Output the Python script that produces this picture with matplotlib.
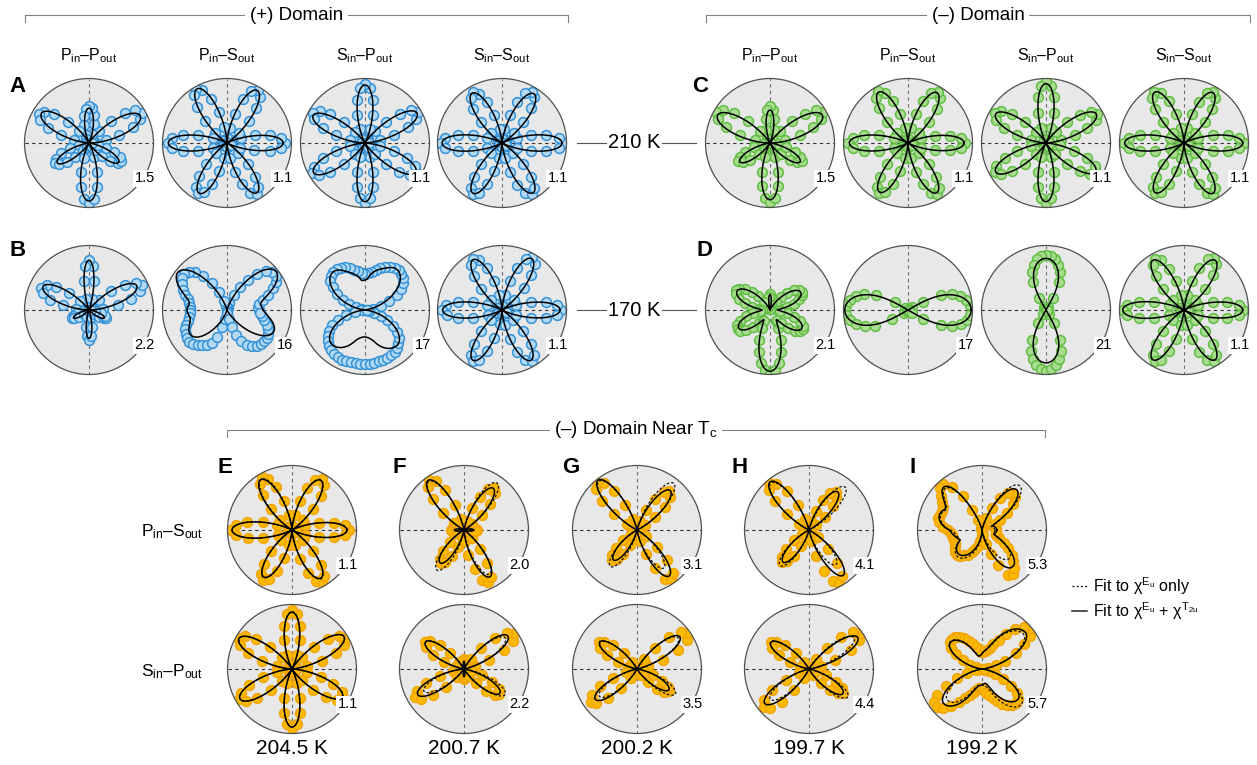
import numpy as np
import matplotlib.pyplot as plt
from matplotlib.lines import Line2D

plt.rcParams['font.family'] = ['Liberation Sans', 'DejaVu Sans']
plt.rcParams['mathtext.fontset'] = 'custom'
plt.rcParams['mathtext.rm'] = 'Liberation Sans'
plt.rcParams['mathtext.it'] = 'Liberation Sans:italic'
plt.rcParams['mathtext.default'] = 'regular'

# polarization angle of each measured point (deg) and dense grid for fits
angles = np.arange(0, 360, 5)
phi = np.linspace(0, 360, 721)

# ---- measured SHG intensity, % of each panel's full scale ----
# (+) domain, 210 K
A_pp = [3, 9, 26, 48, 72, 88, 94, 88, 72, 48, 25, 8,
        2, 5, 15, 30, 44, 54, 57, 53, 43, 29, 14, 5,
        2, 8, 24, 46, 70, 85, 90, 84, 68, 45, 23, 7,
        2, 5, 15, 31, 46, 57, 61, 56, 45, 30, 15, 5,
        2, 7, 24, 47, 70, 87, 93, 87, 70, 46, 23, 7,
        2, 5, 14, 29, 43, 54, 57, 53, 42, 28, 14, 5]
A_ps = [90, 84, 68, 45, 23, 6, 1, 7, 24, 48, 71, 88,
        95, 89, 72, 47, 24, 7, 1, 8, 25, 49, 72, 90,
        97, 90, 72, 48, 24, 7, 1, 6, 23, 46, 69, 86,
        92, 85, 69, 46, 23, 6, 1, 6, 23, 45, 67, 84,
        90, 84, 67, 45, 23, 6, 1, 7, 23, 46, 68, 85,
        92, 84, 68, 45, 23, 6, 1, 6, 22, 44, 67, 84]
A_sp = [1, 7, 24, 47, 71, 88, 95, 88, 71, 47, 24, 7,
        1, 7, 23, 45, 68, 85, 92, 85, 68, 45, 23, 6,
        1, 7, 23, 46, 70, 86, 93, 87, 70, 46, 23, 6,
        1, 6, 23, 47, 70, 87, 94, 87, 70, 46, 23, 7,
        1, 7, 23, 46, 69, 86, 93, 86, 69, 46, 23, 7,
        1, 7, 23, 46, 69, 86, 93, 86, 69, 46, 23, 6]
A_ss = [95, 88, 70, 47, 24, 7, 1, 7, 24, 47, 70, 87,
        92, 85, 68, 45, 22, 6, 1, 6, 22, 45, 68, 84,
        91, 85, 69, 46, 23, 7, 1, 7, 24, 47, 70, 88,
        95, 88, 70, 47, 24, 7, 1, 6, 23, 45, 68, 85,
        91, 85, 68, 45, 23, 6, 1, 7, 23, 46, 69, 86,
        92, 86, 69, 46, 23, 7, 1, 7, 24, 47, 70, 88]

# (+) domain, 170 K
B_pp = [7, 22, 45, 68, 84, 90, 85, 68, 45, 22, 6, 1,
        1, 1, 2, 18, 45, 68, 78, 68, 45, 18, 2, 1,
        1, 1, 6, 20, 41, 62, 76, 82, 76, 62, 41, 20,
        6, 4, 10, 19, 26, 29, 26, 19, 10, 3, 1, 1,
        1, 1, 1, 11, 26, 40, 46, 40, 26, 11, 1, 1,
        1, 1, 1, 3, 10, 19, 26, 29, 26, 19, 10, 3]
B_ps = [50, 48, 50, 58, 68, 79, 87, 92, 91, 85, 73, 57,
        41, 25, 11, 4, 1, 1, 1, 1, 2, 6, 15, 30,
        48, 64, 77, 84, 87, 86, 81, 75, 69, 63, 60, 58,
        57, 58, 60, 63, 67, 71, 74, 76, 76, 74, 71, 67,
        63, 56, 44, 28, 14, 5, 2, 5, 14, 28, 42, 53,
        62, 68, 72, 74, 75, 75, 73, 70, 66, 60, 55, 51]
B_sp = [2, 5, 12, 25, 40, 54, 64, 72, 77, 80, 81, 80,
        77, 73, 69, 64, 60, 57, 56, 58, 61, 65, 69, 73,
        75, 77, 77, 75, 70, 61, 50, 38, 26, 15, 7, 3,
        2, 6, 16, 30, 44, 56, 65, 70, 74, 78, 81, 84,
        85, 85, 84, 83, 83, 84, 84, 84, 83, 82, 82, 82,
        81, 80, 77, 73, 68, 60, 50, 38, 26, 15, 7, 3]
B_ss = [92, 86, 69, 46, 23, 7, 2, 8, 25, 48, 71, 88,
        94, 87, 70, 46, 23, 7, 2, 7, 23, 46, 69, 85,
        91, 85, 68, 45, 23, 6, 1, 7, 24, 47, 70, 87,
        93, 86, 70, 46, 23, 7, 2, 7, 23, 46, 68, 85,
        91, 85, 68, 45, 22, 6, 1, 6, 23, 46, 69, 86,
        92, 86, 69, 46, 23, 7, 2, 7, 23, 46, 69, 86]

# (-) domain, 210 K
C_pp = [2, 7, 24, 48, 71, 88, 95, 88, 71, 48, 24, 7,
        1, 1, 7, 21, 38, 51, 58, 51, 38, 21, 7, 1,
        1, 7, 24, 48, 72, 89, 96, 89, 72, 48, 24, 7,
        2, 2, 11, 25, 41, 52, 57, 52, 41, 25, 11, 2,
        1, 6, 23, 46, 68, 85, 91, 85, 68, 46, 23, 6,
        1, 2, 11, 25, 41, 52, 57, 52, 41, 25, 11, 2]
C_ps = [88, 82, 66, 44, 22, 6, 1, 6, 23, 46, 69, 86,
        92, 86, 69, 46, 23, 6, 1, 7, 23, 47, 70, 86,
        93, 86, 70, 47, 23, 7, 1, 7, 23, 47, 70, 86,
        93, 86, 70, 47, 23, 6, 1, 6, 23, 45, 68, 84,
        90, 84, 68, 45, 23, 6, 1, 6, 23, 46, 68, 85,
        91, 85, 68, 46, 23, 6, 1, 6, 22, 44, 66, 82]
C_sp = [1, 6, 23, 46, 68, 85, 91, 85, 68, 46, 23, 6,
        1, 7, 24, 48, 72, 89, 96, 89, 72, 48, 24, 7,
        1, 6, 23, 46, 69, 86, 92, 86, 69, 46, 23, 6,
        1, 6, 23, 46, 68, 85, 91, 85, 68, 46, 23, 6,
        1, 7, 23, 47, 70, 86, 93, 86, 70, 47, 23, 7,
        1, 6, 22, 45, 68, 84, 90, 84, 68, 45, 22, 6]
C_ss = [93, 86, 70, 47, 23, 7, 1, 6, 23, 46, 68, 85,
        91, 85, 68, 46, 23, 6, 1, 6, 23, 46, 69, 86,
        92, 86, 69, 46, 23, 7, 1, 7, 23, 47, 70, 86,
        93, 86, 70, 47, 23, 6, 1, 6, 23, 45, 68, 84,
        90, 84, 68, 45, 23, 6, 1, 6, 23, 46, 68, 85,
        91, 85, 68, 46, 23, 7, 1, 7, 23, 47, 70, 86]

# (-) domain, 170 K
D_pp = [12, 16, 26, 38, 48, 55, 57, 55, 48, 38, 26, 15,
        6, 1, 1, 2, 10, 20, 25, 20, 10, 2, 1, 1,
        6, 16, 28, 40, 51, 58, 61, 58, 51, 40, 28, 17,
        12, 16, 27, 38, 49, 56, 58, 56, 49, 38, 27, 19,
        20, 31, 49, 67, 83, 93, 97, 93, 83, 67, 49, 31,
        20, 19, 27, 39, 50, 57, 59, 57, 50, 39, 27, 16]
D_ps = [99, 97, 92, 84, 72, 56, 26, 7, 2, 1, 1, 1,
        1, 1, 1, 1, 1, 1, 1, 1, 1, 1, 1, 1,
        1, 1, 1, 1, 2, 6, 24, 55, 72, 84, 92, 96,
        98, 96, 91, 83, 71, 57, 28, 8, 2, 1, 1, 1,
        1, 1, 1, 1, 1, 1, 1, 1, 1, 1, 1, 1,
        1, 1, 1, 1, 2, 7, 27, 56, 73, 85, 93, 97]
D_sp = [1, 1, 1, 1, 1, 1, 1, 1, 1, 1, 2, 6,
        22, 48, 63, 73, 80, 84, 86, 84, 80, 73, 63, 48,
        22, 6, 2, 1, 1, 1, 1, 1, 1, 1, 1, 1,
        1, 1, 1, 1, 1, 1, 1, 1, 1, 1, 2, 7,
        24, 52, 67, 79, 87, 92, 94, 92, 87, 79, 67, 52,
        24, 7, 2, 1, 1, 1, 1, 1, 1, 1, 1, 1]
D_ss = [91, 85, 68, 46, 23, 6, 1, 7, 23, 47, 70, 87,
        93, 87, 70, 47, 23, 7, 1, 6, 23, 46, 68, 85,
        91, 85, 68, 46, 23, 6, 1, 7, 24, 48, 71, 88,
        95, 88, 71, 48, 24, 7, 1, 6, 23, 46, 68, 85,
        91, 85, 68, 46, 23, 6, 1, 6, 23, 46, 69, 86,
        92, 86, 69, 46, 23, 6, 1, 6, 23, 46, 68, 85]

# (-) domain near Tc: Pin-Sout row, then Sin-Pout row
E_ps = [88, 82, 66, 44, 22, 6, 1, 6, 23, 46, 69, 86,
        92, 86, 69, 46, 23, 6, 1, 7, 24, 47, 71, 87,
        94, 87, 71, 47, 24, 7, 1, 7, 24, 47, 71, 87,
        94, 87, 70, 47, 23, 6, 1, 6, 23, 45, 68, 84,
        90, 84, 68, 45, 23, 6, 1, 7, 24, 47, 71, 87,
        96, 87, 70, 47, 23, 6, 1, 6, 22, 44, 66, 82]
F_ps = [20, 18, 13, 7, 2, 1, 2, 15, 36, 57, 74, 80,
        74, 57, 36, 15, 2, 1, 1, 1, 3, 18, 42, 68,
        88, 95, 88, 68, 42, 18, 3, 1, 2, 7, 13, 18,
        20, 18, 13, 7, 2, 1, 2, 12, 28, 45, 58, 63,
        58, 45, 28, 12, 2, 1, 2, 17, 39, 63, 82, 89,
        84, 63, 39, 17, 2, 1, 1, 1, 2, 7, 13, 18]
G_ps = [1, 1, 1, 1, 1, 2, 15, 34, 56, 72, 78, 72,
        56, 34, 15, 2, 1, 1, 1, 1, 1, 3, 18, 43,
        70, 89, 97, 89, 70, 43, 18, 3, 1, 1, 1, 1,
        1, 1, 1, 1, 1, 2, 11, 26, 43, 55, 60, 55,
        43, 26, 11, 2, 1, 1, 1, 1, 3, 17, 40, 65,
        88, 93, 88, 65, 40, 17, 3, 1, 1, 1, 1, 1]
H_ps = [1, 1, 1, 1, 1, 1, 2, 14, 32, 52, 66, 72,
        66, 52, 32, 14, 2, 1, 1, 1, 1, 3, 18, 42,
        69, 88, 96, 88, 69, 42, 18, 3, 1, 1, 1, 1,
        1, 1, 1, 1, 1, 2, 12, 28, 46, 59, 64, 59,
        46, 28, 12, 2, 1, 1, 1, 3, 18, 41, 67, 88,
        94, 88, 67, 41, 18, 3, 1, 1, 1, 1, 1, 1]
I_ps = [22, 22, 21, 20, 20, 22, 32, 47, 62, 72, 75, 70,
        57, 38, 19, 5, 1, 1, 1, 1, 1, 3, 16, 35,
        60, 82, 93, 91, 83, 75, 70, 69, 70, 70, 67, 60,
        52, 49, 48, 47, 46, 47, 49, 52, 54, 54, 52, 48,
        44, 38, 32, 25, 17, 8, 3, 2, 8, 22, 40, 60,
        80, 83, 76, 68, 60, 50, 39, 29, 23, 22, 22, 22]

E_sp = [1, 7, 24, 48, 72, 89, 96, 89, 72, 48, 24, 7,
        1, 6, 23, 46, 68, 85, 91, 85, 68, 46, 23, 6,
        1, 7, 24, 48, 72, 89, 96, 89, 72, 48, 24, 7,
        1, 7, 24, 47, 71, 87, 94, 87, 71, 47, 24, 7,
        1, 6, 23, 46, 69, 86, 92, 86, 69, 46, 23, 6,
        1, 6, 23, 46, 68, 85, 91, 85, 68, 46, 23, 6]
F_sp = [1, 1, 3, 18, 42, 69, 88, 96, 88, 69, 42, 18,
        3, 1, 1, 2, 8, 13, 15, 13, 8, 2, 1, 1,
        2, 14, 33, 53, 68, 74, 68, 53, 33, 14, 2, 1,
        1, 3, 17, 39, 63, 81, 88, 81, 63, 39, 17, 3,
        1, 1, 1, 2, 8, 13, 15, 13, 8, 2, 1, 1,
        2, 13, 29, 48, 62, 67, 62, 48, 29, 13, 2, 1]
G_sp = [1, 1, 3, 18, 43, 70, 89, 97, 90, 70, 43, 18,
        3, 1, 1, 1, 1, 2, 2, 2, 1, 1, 1, 1,
        2, 14, 32, 52, 66, 72, 66, 52, 32, 14, 2, 1,
        1, 1, 3, 17, 39, 63, 81, 88, 82, 63, 39, 17,
        3, 1, 1, 1, 1, 2, 2, 2, 1, 1, 1, 1,
        2, 11, 26, 43, 55, 60, 55, 43, 26, 11, 2, 1]
H_sp = [1, 1, 3, 19, 43, 71, 90, 98, 90, 71, 43, 19,
        3, 1, 1, 1, 1, 1, 1, 1, 1, 1, 1, 1,
        2, 14, 32, 52, 66, 72, 66, 52, 32, 14, 2, 1,
        1, 1, 1, 3, 17, 40, 66, 85, 92, 85, 66, 40,
        17, 3, 1, 1, 1, 1, 1, 1, 1, 1, 1, 1,
        2, 12, 28, 46, 59, 64, 59, 46, 28, 12, 2, 1]
I_sp = [2, 4, 10, 22, 38, 58, 76, 90, 98, 92, 80, 66,
        52, 42, 35, 31, 28, 26, 26, 28, 31, 35, 41, 48,
        55, 61, 65, 66, 64, 58, 46, 32, 19, 9, 4, 2,
        2, 4, 10, 24, 42, 62, 80, 90, 92, 86, 74, 62,
        52, 44, 38, 33, 30, 29, 30, 33, 37, 42, 48, 55,
        62, 68, 72, 74, 73, 66, 52, 36, 22, 11, 5, 3]

# full-scale value printed on each panel
scale_A = ['1.5', '1.1', '1.1', '1.1']
scale_B = ['2.2', '16', '17', '1.1']
scale_C = ['1.5', '1.1', '1.1', '1.1']
scale_D = ['2.1', '17', '21', '1.1']
scale_ps = ['1.1', '2.0', '3.1', '4.1', '5.3']
scale_sp = ['1.1', '2.2', '3.5', '4.4', '5.7']
temps = ['204.5 K', '200.7 K', '200.2 K', '199.7 K', '199.2 K']
channels = [r'P$_{in}$–P$_{out}$', r'P$_{in}$–S$_{out}$',
            r'S$_{in}$–P$_{out}$', r'S$_{in}$–S$_{out}$']

# ---- fitted lobes: (direction deg, length, half-width low side, half-width high side, shape power)
fit_A = [
    [(28, .90, 32, 32, 2), (90, .54, 28, 28, 2), (148, .87, 32, 32, 2),
     (212, .58, 28, 28, 2), (270, .90, 32, 32, 2), (327, .55, 28, 28, 2)],
    [(0, .87, 30, 30, 2), (60, .94, 30, 30, 2), (119, .96, 30, 30, 2),
     (180, .91, 30, 30, 2), (241, .89, 30, 30, 2), (301, .90, 30, 30, 2)],
    [(30, .93, 30, 30, 2), (90, .90, 30, 30, 2), (152, .91, 30, 30, 2),
     (210, .92, 30, 30, 2), (270, .91, 30, 30, 2), (330, .91, 30, 30, 2)],
    [(0, .93, 30, 30, 2), (57, .91, 30, 30, 2), (121, .90, 30, 30, 2),
     (180, .93, 30, 30, 2), (240, .90, 30, 30, 2), (302, .91, 30, 30, 2)]]
fit_B = [
    [(27, .83, 30, 30, 2), (90, .77, 22, 22, 2), (153, .80, 30, 30, 2),
     (207, .27, 24, 24, 2), (270, .44, 22, 22, 2), (333, .27, 24, 24, 2)],
    [(138, .80, 35, 35, 2), (180, .62, 60, 60, 2), (222, .50, 35, 35, 2),
     (42, .83, 35, 35, 2), (0, .55, 60, 60, 2), (328, .50, 35, 35, 2)],
    [(52, .80, 45, 45, 1.3), (130, .77, 45, 45, 1.3), (90, .26, 30, 30, 2),
     (226, .74, 45, 60, 1.5), (312, .74, 60, 45, 1.5)],
    [(0, .90, 30, 30, 2), (60, .92, 30, 30, 2), (120, .90, 30, 30, 2),
     (180, .92, 30, 30, 2), (240, .90, 30, 30, 2), (300, .90, 30, 30, 2)]]
fit_C = [
    [(28, .92, 32, 32, 2), (90, .51, 26, 26, 2), (152, .92, 32, 32, 2),
     (212, .55, 28, 28, 2), (270, .88, 32, 32, 2), (328, .55, 28, 28, 2)],
    [(0, .87, 30, 30, 2), (60, .90, 30, 30, 2), (120, .91, 30, 30, 2),
     (180, .91, 30, 30, 2), (240, .88, 30, 30, 2), (300, .89, 30, 30, 2)],
    [(30, .90, 30, 30, 2), (90, .92, 30, 30, 2), (150, .90, 30, 30, 2),
     (210, .90, 30, 30, 2), (270, .91, 30, 30, 2), (330, .89, 30, 30, 2)],
    [(0, .91, 30, 30, 2), (60, .90, 30, 30, 2), (120, .91, 30, 30, 2),
     (180, .92, 30, 30, 2), (240, .89, 30, 30, 2), (300, .90, 30, 30, 2)]]
fit_D = [
    [(30, .55, 38, 38, 2), (90, .24, 18, 18, 2), (150, .59, 38, 38, 2),
     (210, .56, 38, 38, 2), (270, .95, 40, 40, 2), (330, .57, 38, 38, 2)],
    [(0, .98, 30, 30, .5), (180, .98, 30, 30, .5)],
    [(90, .80, 30, 30, .5), (270, .82, 30, 30, .5)],
    [(0, .91, 30, 30, 2), (58, .91, 30, 30, 2), (122, .91, 30, 30, 2),
     (180, .95, 30, 30, 2), (238, .91, 30, 30, 2), (302, .91, 30, 30, 2)]]

# near Tc: solid = Eu + T2u fit, dashed = Eu-only fit
fit_ps = [
    [(0, .85, 30, 30, 2), (60, .89, 30, 30, 2), (122, .92, 30, 30, 2),
     (180, .93, 30, 30, 2), (239, .85, 30, 30, 2), (301, .87, 30, 30, 2)],
    [(126, .95, 28, 28, 2), (55, .79, 28, 28, 2), (234, .63, 28, 28, 2),
     (299, .83, 28, 28, 2), (0, .15, 25, 25, 2), (180, .15, 25, 25, 2)],
    [(128, .98, 28, 28, 2), (50, .80, 28, 28, 2), (232, .59, 28, 28, 2), (305, .87, 28, 28, 2)],
    [(129, .96, 28, 28, 2), (53, .74, 28, 28, 2), (231, .64, 28, 28, 2), (307, .88, 28, 28, 2)],
    [(127, .60, 25, 25, 2), (160, .70, 45, 45, 1.2), (225, .52, 45, 45, 1.2),
     (50, .82, 30, 30, 2), (0, .23, 50, 50, 1.2), (309, .74, 35, 35, 2)]]
eu_ps = [
    [(0, .86, 30, 30, 2), (60, .90, 30, 30, 2), (121, .92, 30, 30, 2),
     (180, .93, 30, 30, 2), (239, .86, 30, 30, 2), (301, .88, 30, 30, 2)],
    [(126, .93, 28, 28, 2), (55, .89, 28, 28, 2), (236, .75, 28, 28, 2),
     (300, .79, 28, 28, 2), (0, .12, 25, 25, 2), (180, .12, 25, 25, 2)],
    [(128, .96, 28, 28, 2), (52, .92, 28, 28, 2), (234, .70, 28, 28, 2), (305, .72, 28, 28, 2)],
    [(129, .94, 28, 28, 2), (50, .87, 28, 28, 2), (231, .71, 28, 28, 2), (308, .68, 28, 28, 2)],
    [(127, .58, 25, 25, 2), (160, .68, 45, 45, 1.2), (227, .56, 45, 45, 1.2),
     (50, .90, 30, 30, 2), (0, .20, 50, 50, 1.2), (312, .60, 35, 35, 2)]]
fit_sp = [
    [(32, .95, 30, 30, 2), (90, .88, 30, 30, 2), (150, .95, 30, 30, 2),
     (210, .93, 30, 30, 2), (270, .90, 30, 30, 2), (331, .89, 30, 30, 2)],
    [(37, .85, 28, 28, 2), (145, .73, 28, 28, 2), (209, .82, 28, 28, 2),
     (326, .67, 28, 28, 2), (90, .12, 20, 20, 2), (270, .12, 20, 20, 2)],
    [(37, .83, 28, 28, 2), (144, .71, 28, 28, 2), (216, .80, 28, 28, 2), (327, .59, 28, 28, 2)],
    [(33, .90, 28, 28, 2), (145, .72, 28, 28, 2), (218, .87, 28, 28, 2), (324, .65, 28, 28, 2)],
    [(40, .88, 38, 55, 2), (90, .22, 25, 25, 2), (140, .64, 50, 38, 2),
     (222, .80, 38, 50, 2), (270, .24, 25, 25, 2), (320, .73, 50, 38, 2)]]
eu_sp = [
    [(32, .95, 30, 30, 2), (90, .89, 30, 30, 2), (150, .94, 30, 30, 2),
     (210, .93, 30, 30, 2), (270, .90, 30, 30, 2), (331, .90, 30, 30, 2)],
    [(37, .80, 28, 28, 2), (145, .73, 28, 28, 2), (209, .71, 28, 28, 2),
     (328, .75, 28, 28, 2), (90, .10, 20, 20, 2), (270, .10, 20, 20, 2)],
    [(37, .80, 28, 28, 2), (144, .72, 28, 28, 2), (216, .72, 28, 28, 2), (327, .71, 28, 28, 2)],
    [(35, .85, 28, 28, 2), (145, .73, 28, 28, 2), (218, .76, 28, 28, 2), (324, .74, 28, 28, 2)],
    [(40, .84, 38, 55, 2), (90, .22, 25, 25, 2), (140, .65, 50, 38, 2),
     (222, .72, 38, 50, 2), (270, .24, 25, 25, 2), (318, .82, 50, 38, 2)]]

BLUE = ('#b3daf5', '#3592d6')
GREEN = ('#a8dd90', '#62bd45')
ORANGE = ('#fbb900', '#f2a500')

W, H = 1257, 765
R = 64.5
fig = plt.figure(figsize=(W / 100, H / 100), dpi=100)


def fx(x):
    return x / W


def fy(y):
    return 1 - y / H


def lobe_curve(lobes, ang):
    r = np.zeros_like(ang)
    for c, amp, w_lo, w_hi, p in lobes:
        d = (ang - c + 180) % 360 - 180
        w = np.where(d < 0, w_lo, w_hi)
        inside = np.abs(d) < w
        r += np.where(inside, amp * np.abs(np.cos(np.radians(90 * d / w))) ** p, 0)
    return r


def polar_panel(cx, cy, data, fit, label, colors, eu_fit=None):
    s = float(label)
    ax = fig.add_axes([(cx - R) / W, 1 - (cy + R) / H, 2 * R / W, 2 * R / H],
                      projection='polar')
    ax.set_facecolor('#e8e8e8')
    ax.set_ylim(0, s)
    ax.set_xticks([])
    ax.set_yticks([])
    ax.grid(False)
    ax.spines['polar'].set_edgecolor('#505050')
    ax.spines['polar'].set_linewidth(0.9)
    ax.plot([0, 1], [0.5, 0.5], transform=ax.transAxes, color='#333333',
            lw=0.8, ls=(0, (3, 3)), zorder=1)
    ax.plot([0.5, 0.5], [0, 1], transform=ax.transAxes, color='#6a6a6a',
            lw=0.8, ls=(0, (3, 3)), zorder=1)
    ax.scatter(np.radians(angles), np.array(data) / 100 * s, s=50,
               facecolor=colors[0], edgecolor=colors[1], linewidth=1.1, zorder=2)
    if eu_fit is not None:
        ax.plot(np.radians(phi), lobe_curve(eu_fit, phi) * s, color='#111111',
                lw=0.9, ls=(0, (2, 1.6)), zorder=3)
    ax.plot(np.radians(phi), lobe_curve(fit, phi) * s, color='black', lw=1.1, zorder=4)
    ax.text(1.01, 0.225, label, transform=ax.transAxes, ha='right', va='center',
            fontsize=10.5, zorder=6,
            bbox=dict(boxstyle='square,pad=0.12', fc='white', ec='none'))
    return ax


def bracket(x0, x1, y, text, fs=13.5):
    fig.add_artist(Line2D([fx(x0), fx(x0), fx(x1), fx(x1)],
                          [fy(y + 7), fy(y), fy(y), fy(y + 7)],
                          color='#808080', lw=0.8))
    fig.text(fx((x0 + x1) / 2), fy(y), text, ha='center', va='center', fontsize=fs,
             bbox=dict(boxstyle='square,pad=0.25', fc='white', ec='none'))


# ---- top block: (+) and (-) domains at 210 K and 170 K ----
left_x = [89, 227, 365, 502]
right_x = [770, 908, 1046, 1184]
row_y = [143, 310]

for i in range(4):
    polar_panel(left_x[i], row_y[0], [A_pp, A_ps, A_sp, A_ss][i], fit_A[i], scale_A[i], BLUE)
    polar_panel(left_x[i], row_y[1], [B_pp, B_ps, B_sp, B_ss][i], fit_B[i], scale_B[i], BLUE)
    polar_panel(right_x[i], row_y[0], [C_pp, C_ps, C_sp, C_ss][i], fit_C[i], scale_C[i], GREEN)
    polar_panel(right_x[i], row_y[1], [D_pp, D_ps, D_sp, D_ss][i], fit_D[i], scale_D[i], GREEN)
    fig.text(fx(left_x[i]), fy(60), channels[i], ha='center', va='baseline', fontsize=11.5)
    fig.text(fx(right_x[i]), fy(60), channels[i], ha='center', va='baseline', fontsize=11.5)

bracket(25, 568, 15, '(+) Domain')
bracket(706, 1250, 15, '(–) Domain')

for y, t in zip(row_y, ['210 K', '170 K']):
    fig.add_artist(Line2D([fx(577), fx(606)], [fy(y), fy(y)], color='#555555', lw=0.8))
    fig.add_artist(Line2D([fx(662), fx(696)], [fy(y), fy(y)], color='#555555', lw=0.8))
    fig.text(fx(634), fy(y), t, ha='center', va='center', fontsize=14.5)

for t, x, y in [('A', 18, 86), ('B', 18, 250), ('C', 700, 86), ('D', 704, 250)]:
    fig.text(fx(x), fy(y), t, ha='center', va='center', fontsize=16, fontweight='bold')

# ---- bottom block: (-) domain near Tc ----
bot_x = [292, 464, 637, 809, 982]
bot_y = [530, 669]
ps_data = [E_ps, F_ps, G_ps, H_ps, I_ps]
sp_data = [E_sp, F_sp, G_sp, H_sp, I_sp]

for j in range(5):
    polar_panel(bot_x[j], bot_y[0], ps_data[j], fit_ps[j], scale_ps[j], ORANGE, eu_ps[j])
    polar_panel(bot_x[j], bot_y[1], sp_data[j], fit_sp[j], scale_sp[j], ORANGE, eu_sp[j])
    fig.text(fx(bot_x[j]), fy(749), temps[j], ha='center', va='center', fontsize=15)

for t, x in zip('EFGHI', [225, 399, 571, 740, 913]):
    fig.text(fx(x), fy(467), t, ha='center', va='center', fontsize=16, fontweight='bold')

bracket(227, 1045, 430, r'(–) Domain Near T$_c$')

fig.text(fx(203), fy(532), channels[1], ha='right', va='center', fontsize=12.5)
fig.text(fx(203), fy(672), channels[2], ha='right', va='center', fontsize=12.5)

# legend for the two fit models
fig.add_artist(Line2D([fx(1072), fx(1087)], [fy(586), fy(586)], color='#222222',
                      lw=1.0, ls=(0, (1.5, 1.5))))
fig.add_artist(Line2D([fx(1072), fx(1087)], [fy(611), fy(611)], color='#222222', lw=1.1))
fig.text(fx(1093), fy(586), r'Fit to $\chi^{E_u}$ only', ha='left', va='center', fontsize=11.5)
fig.text(fx(1093), fy(611), r'Fit to $\chi^{E_u}$ + $\chi^{T_{2u}}$', ha='left', va='center',
         fontsize=11.5)

fig.savefig('out.png', dpi=100)
